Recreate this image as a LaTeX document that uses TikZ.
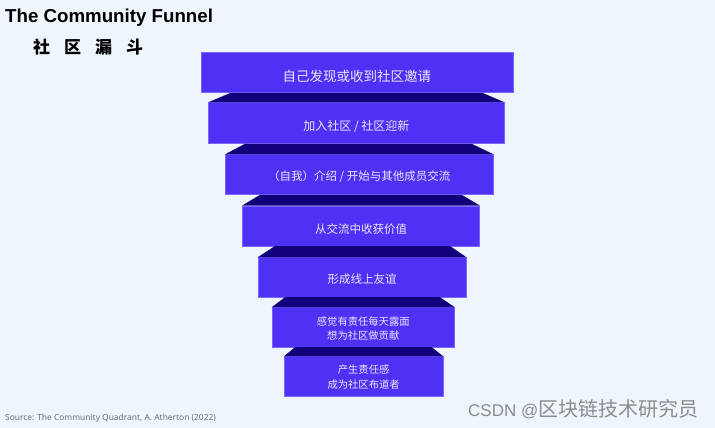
\documentclass[tikz,border=0pt]{standalone}
\usepackage{fontspec}
\setmainfont{Noto Sans}
\newfontfamily\cjk{Noto Sans CJK SC}
\newfontfamily\wmfont{Liberation Sans}
\usetikzlibrary{calc}
\definecolor{bgc}{HTML}{EFF5FD}
\definecolor{tierfill}{HTML}{4F31F5}
\definecolor{tieredge}{HTML}{7A66FF}
\definecolor{bandc}{HTML}{12007A}
\definecolor{lblc}{HTML}{EAE6FF}
\definecolor{srcc}{HTML}{6B6F78}
\definecolor{wmc}{HTML}{8C8C8C}
\tikzset{
  tier/.style={rectangle, fill=tierfill, draw=tieredge, line width=0.5pt, inner sep=0pt, anchor=north west},
  band/.style={fill=bandc},
  lbl/.style={text=lblc, inner sep=0pt, align=center},
}
\begin{document}
\begin{tikzpicture}[x=1pt,y=-1pt]
\fill[bgc] (0,0) rectangle (715,428);
\useasboundingbox (0,0) rectangle (715,428);

% tiers
\node[tier, minimum width=312.2pt, minimum height=39.8pt] (b1) at (200.5,52.5) {};
\node[tier, minimum width=295.7pt, minimum height=41pt] (b2) at (208.3,102.3) {};
\node[tier, minimum width=268pt, minimum height=40pt] (b3) at (225,154.3) {};
\node[tier, minimum width=237pt, minimum height=40pt] (b4) at (242.3,205.5) {};
\node[tier, minimum width=208.3pt, minimum height=39.4pt] (b5) at (257.7,257.3) {};
\node[tier, minimum width=182.6pt, minimum height=39.4pt] (b6) at (271.7,307.3) {};
\node[tier, minimum width=158.7pt, minimum height=39.7pt] (b7) at (284,356.3) {};

% dark top faces
\fill[band] (b1.south -| 230.7,0) -- (b1.south -| 482.3,0) -- (b2.north east) -- (b2.north west) -- cycle;
\fill[band] (b2.south -| 245,0) -- (b2.south -| 471.7,0) -- (b3.north east) -- (b3.north west) -- cycle;
\fill[band] (b3.south -| 260,0) -- (b3.south -| 461.7,0) -- (b4.north east) -- (b4.north west) -- cycle;
\fill[band] (b4.south -| 275,0) -- (b4.south -| 450,0) -- (b5.north east) -- (b5.north west) -- cycle;
\fill[band] (b5.south -| 285,0) -- (b5.south -| 440,0) -- (b6.north east) -- (b6.north west) -- cycle;
\fill[band] (b6.south -| 295,0) -- (b6.south -| 431.7,0) -- (b7.north east) -- (b7.north west) -- cycle;

% labels
\node[lbl, font=\cjk\fontsize{13.5}{16}\selectfont] (t1) at ($(b1.center)+(0,3.5)$) {自己发现或收到社区邀请};
\node[lbl, font=\cjk\fontsize{12}{14}\selectfont] (t2) at ($(b2.center)+(0,3.3)$) {加入社区 / 社区迎新};
\node[lbl, font=\cjk\fontsize{11.5}{14}\selectfont] (t3) at ($(b3.center)+(0,2.5)$) {（自我）介绍 / 开始与其他成员交流};
\node[lbl, font=\cjk\fontsize{11.5}{14}\selectfont] (t4) at ($(b4.center)+(0,3.5)$) {从交流中收获价值};
\node[lbl, font=\cjk\fontsize{11.5}{14}\selectfont] (t5) at ($(b5.center)+(0,1.5)$) {形成线上友谊};
\node[lbl, font=\cjk\fontsize{10.3}{14}\selectfont] (t6) at ($(b6.center)+(0,1)$) {感觉有责任每天露面\\想为社区做贡献};
\node[lbl, font=\cjk\fontsize{10.3}{15}\selectfont] (t7) at ($(b7.center)+(0,0.5)$) {产生责任感\\成为社区布道者};

% titles
\node[anchor=base west, inner sep=0pt, font=\wmfont\bfseries\fontsize{18.7}{20}\selectfont] (title) at (5,23) {The Community Funnel};
\node[anchor=west, inner sep=0pt, font=\cjk\bfseries\fontsize{17}{20}\selectfont] (sub) at (33,47) {社\hspace{14pt}区\hspace{14pt}漏\hspace{14pt}斗};

% source
\node[anchor=base west, inner sep=0pt, text=srcc, font=\fontsize{8.4}{9}\selectfont] (src) at (5,420) {Source: The Community Quadrant, A. Atherton (2022)};

% watermark
\node[anchor=base west, inner sep=0pt, text=wmc] (wm) at (468,416) {\wmfont\fontsize{17}{20}\selectfont CSDN @\cjk\fontsize{20}{20}\selectfont 区块链技术研究员};
\end{tikzpicture}
\end{document}
